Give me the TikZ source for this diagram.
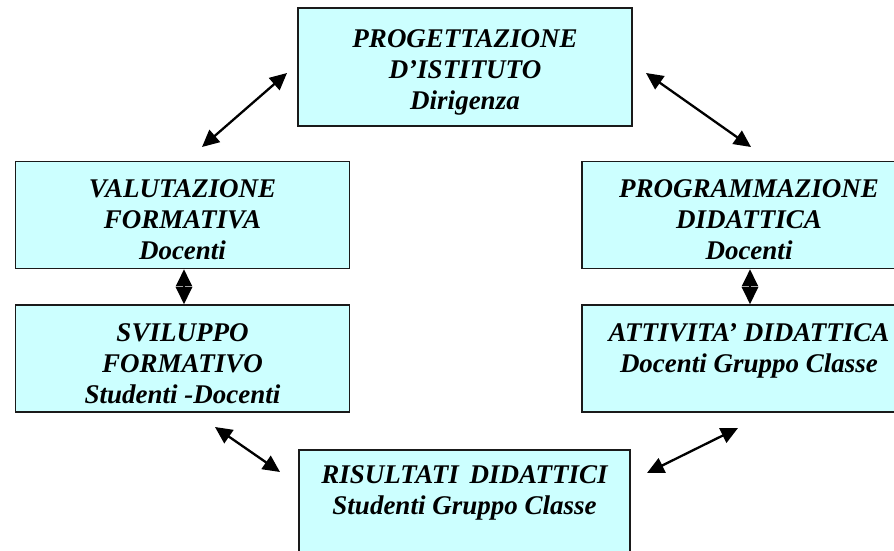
\documentclass[tikz,border=0pt]{standalone}
\usepackage{fontspec}
\setmainfont{Liberation Serif}
\usetikzlibrary{arrows.meta}
\definecolor{boxfill}{HTML}{CCFFFF}
\definecolor{boxline}{HTML}{1A1A1A}
\newcommand{\toplift}{\rule{0pt}{28pt}}
\newcommand{\smalllift}{\rule{0pt}{22pt}}
\begin{document}
\begin{tikzpicture}[x=1pt,y=-1pt,
  box/.style={draw=boxline, line width=1.6pt, fill=boxfill, rectangle,
    minimum width=334pt, minimum height=107pt, inner sep=0pt, align=center,
    font=\fontsize{27}{31}\selectfont\bfseries\itshape},
  link/.style={line width=2.3pt, {Triangle[length=17pt,width=16pt]}-{Triangle[length=17pt,width=16pt]}}]
\useasboundingbox (0,0) rectangle (894,550);
\fill[white] (0,0) rectangle (894,550);
\clip (0,0) rectangle (894,550);
\node[box, minimum height=118pt] (pi) at (465,67) {\toplift PROGETTAZIONE\\ D'ISTITUTO\\ Dirigenza};
\node[box] (vf) at (182.5,215) {\toplift VALUTAZIONE\\ FORMATIVA\\ Docenti};
\node[box] (sf) at (182.5,358.5) {\toplift SVILUPPO\\ FORMATIVO\\ Studenti -Docenti};
\node[box] (pd) at (749,215) {\toplift PROGRAMMAZIONE\\ DIDATTICA\\ Docenti};
\node[box] (ad) at (749,358.5) {\toplift ATTIVITA' DIDATTICA\\ Docenti Gruppo Classe\\ ~};
\node[box, minimum width=331pt] (rd) at (464.5,503.5) {\smalllift RISULTATI\hspace{0.4em}DIDATTICI\\ Studenti Gruppo Classe\\ ~};
\coordinate (a1s) at (287,73); \coordinate (a1e) at (202,147);
\coordinate (a2s) at (646,73); \coordinate (a2e) at (751,147);
\coordinate (a3s) at (215,427); \coordinate (a3e) at (280,472);
\coordinate (a4s) at (647,473); \coordinate (a4e) at (738,428);
\draw[link] (a1s) -- (a1e);
\draw[link] (a2s) -- (a2e);
\draw[link] (a3s) -- (a3e);
\draw[link] (a4s) -- (a4e);
\draw[link] ([xshift=1.5pt]vf.south) -- ([xshift=1.5pt]sf.north);
\draw[link] ([xshift=1pt]pd.south) -- ([xshift=1pt]ad.north);
\end{tikzpicture}
\end{document}
